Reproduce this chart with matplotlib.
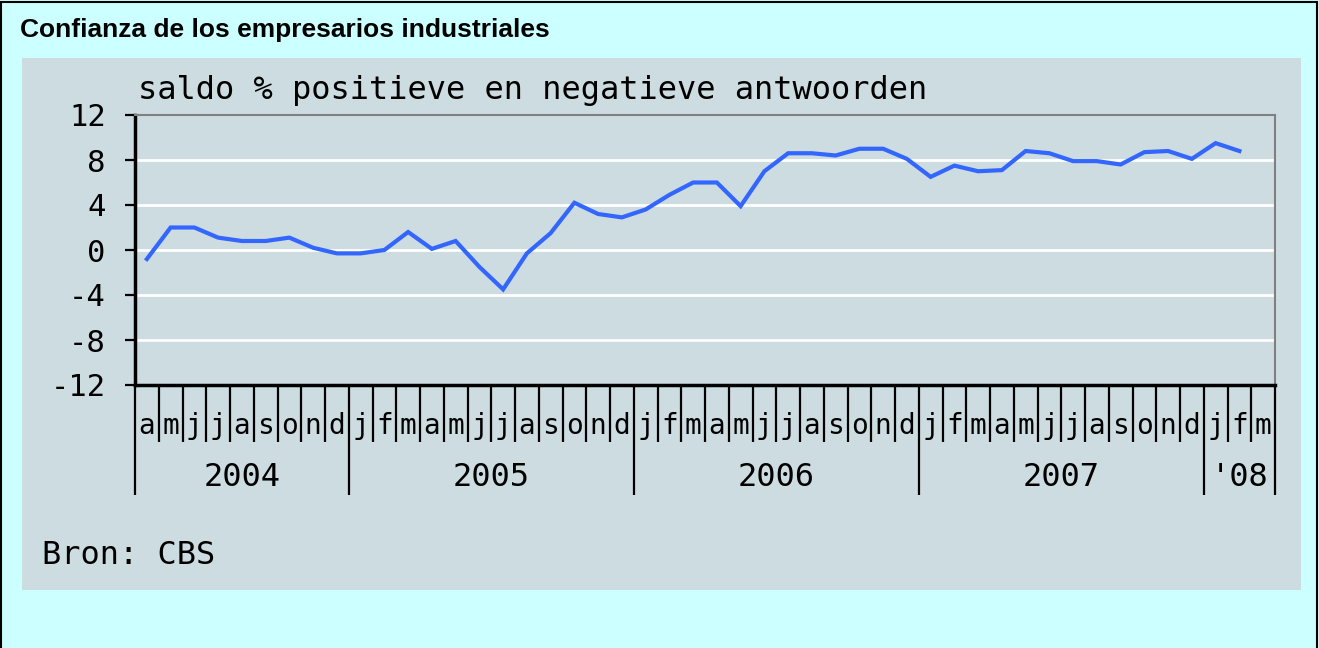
import matplotlib
matplotlib.use('Agg')
import matplotlib.pyplot as plt
from matplotlib.patches import Rectangle
from matplotlib.ticker import FixedLocator
import matplotlib.transforms as mtransforms

# monthly values, apr 2004 .. feb 2008
values = [-0.8, 2.0, 2.0, 1.1, 0.8, 0.8, 1.1, 0.2, -0.3,
          -0.3, 0.0, 1.6, 0.1, 0.8, -1.5, -3.5, -0.3, 1.5, 4.2, 3.2, 2.9,
          3.6, 4.9, 6.0, 6.0, 3.9, 7.0, 8.6, 8.6, 8.4, 9.0, 9.0, 8.1,
          6.5, 7.5, 7.0, 7.1, 8.8, 8.6, 7.9, 7.9, 7.6, 8.7, 8.8, 8.1,
          9.5, 8.8]
month_labels = ['a', 'm', 'j', 'j', 'a', 's', 'o', 'n', 'd',
                'j', 'f', 'm', 'a', 'm', 'j', 'j', 'a', 's', 'o', 'n', 'd',
                'j', 'f', 'm', 'a', 'm', 'j', 'j', 'a', 's', 'o', 'n', 'd',
                'j', 'f', 'm', 'a', 'm', 'j', 'j', 'a', 's', 'o', 'n', 'd',
                'j', 'f', 'm']
year_labels = ['2004', '2005', '2006', '2007', "'08"]
year_bounds = [0, 9, 21, 33, 45, 48]
y_ticks = [-12, -8, -4, 0, 4, 8, 12]

W, H = 1319, 648
MONO = 'DejaVu Sans Mono'
fig = plt.figure(figsize=(W / 100, H / 100), dpi=100)
fig.patch.set_facecolor('#CCFFFF')

# grey panel and outer border
panel = Rectangle((22 / W, 1 - 590 / H), (1301 - 22) / W, (590 - 58) / H,
                  transform=fig.transFigure, facecolor='#CDDCE1',
                  edgecolor='none', zorder=-2)
fig.add_artist(panel)
border = Rectangle((1 / W, -0.05), (1317 - 1) / W, 1.05 - 2 / H,
                   transform=fig.transFigure, facecolor='none',
                   edgecolor='black', linewidth=1.5, zorder=5)
fig.add_artist(border)

left, right, top, bottom = 135, 1275, 115, 385
ax = fig.add_axes([left / W, 1 - bottom / H, (right - left) / W, (bottom - top) / H])
ax.set_zorder(1)
ax.set_facecolor('none')

x = [i + 0.5 for i in range(len(values))]
ax.plot(x, values, color='#3366FF', linewidth=3, solid_joinstyle='miter', zorder=3)

ax.set_xlim(0, 48)
ax.set_ylim(-12, 12)
ax.set_yticks(y_ticks)
ax.set_yticklabels([str(v) for v in y_ticks], fontsize=22, family=MONO)
for v in y_ticks[1:-1]:
    ax.axhline(v, color='white', linewidth=2, zorder=1)

ax.xaxis.set_major_locator(FixedLocator(year_bounds))
ax.xaxis.set_minor_locator(FixedLocator([i for i in range(49) if i not in year_bounds]))
ax.set_xticklabels([])
ax.tick_params(axis='x', which='major', direction='out', length=79, width=1.6, color='black')
ax.tick_params(axis='x', which='minor', direction='out', length=41, width=1.6, color='black')
ax.tick_params(axis='y', direction='out', length=7, width=1.6, pad=14, color='black')

for side in ['left', 'bottom']:
    ax.spines[side].set_color('black')
    ax.spines[side].set_linewidth(2.5)
for side in ['top', 'right']:
    ax.spines[side].set_color('#808080')
    ax.spines[side].set_linewidth(1.5)

trans = mtransforms.blended_transform_factory(ax.transData, ax.transAxes)
month_y = -(426 - bottom) / (bottom - top)
for i, lab in enumerate(month_labels):
    ax.text(i + 0.5, month_y, lab, transform=trans, ha='center', va='center',
            fontsize=20, family=MONO, clip_on=False)
year_y = -(478 - bottom) / (bottom - top)
for k, lab in enumerate(year_labels):
    ax.text((year_bounds[k] + year_bounds[k + 1]) / 2, year_y, lab, transform=trans,
            ha='center', va='center', fontsize=23, family=MONO, clip_on=False)

fig.text(20 / W, 1 - 30 / H, 'Confianza de los empresarios industriales',
         fontsize=19, fontweight='bold', family='Liberation Sans', ha='left', va='center')
fig.text(138 / W, 1 - 90 / H, 'saldo % positieve en negatieve antwoorden',
         fontsize=23, family=MONO, ha='left', va='center')
fig.text(42 / W, 1 - 555 / H, 'Bron: CBS',
         fontsize=23, family=MONO, ha='left', va='center')

fig.savefig('out.png', dpi=100, facecolor=fig.get_facecolor())
